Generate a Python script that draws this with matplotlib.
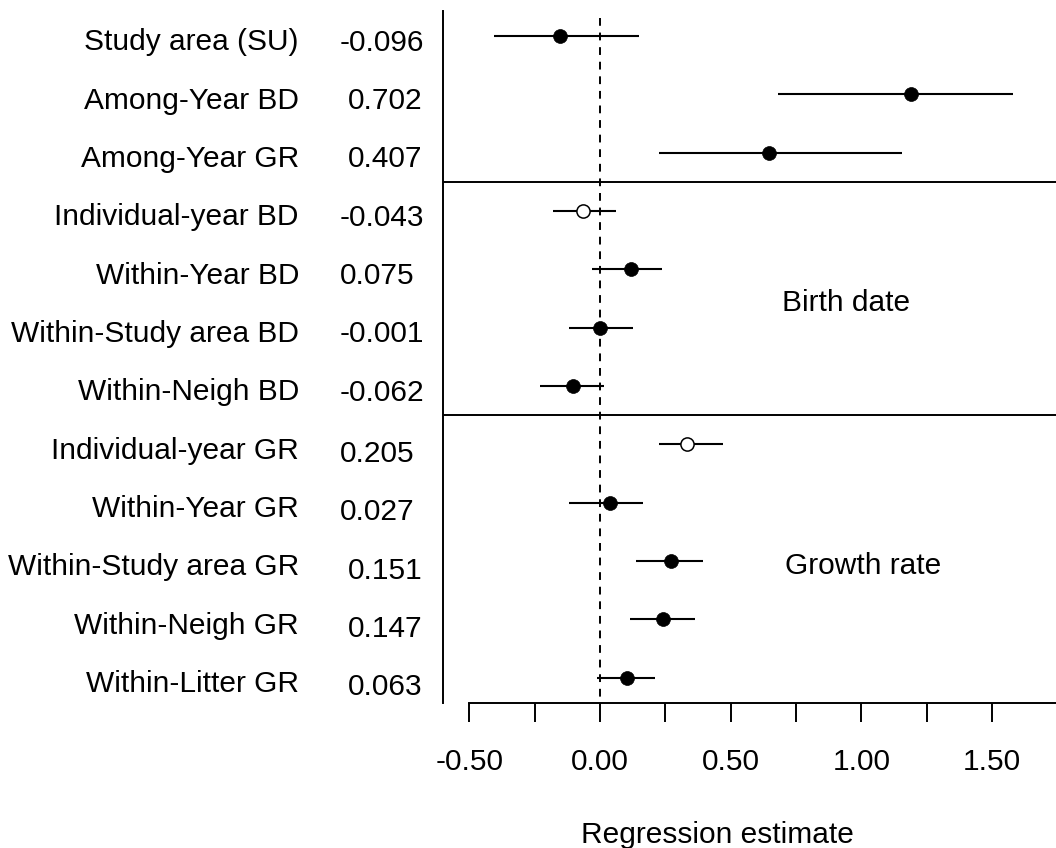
import matplotlib

matplotlib.use("Agg")
import matplotlib.pyplot as plt
import matplotlib.transforms as mtransforms
import numpy as np

plt.rcParams["font.family"] = ["Liberation Sans", "DejaVu Sans"]

LABELS = [
    "Study area (SU)",
    "Among-Year BD",
    "Among-Year GR",
    "Individual-year BD",
    "Within-Year BD",
    "Within-Study area BD",
    "Within-Neigh BD",
    "Individual-year GR",
    "Within-Year GR",
    "Within-Study area GR",
    "Within-Neigh GR",
    "Within-Litter GR",
]
VALUE_TEXT = ["-0.096", "0.702", "0.407", "-0.043", "0.075", "-0.001", "-0.062",
              "0.205", "0.027", "0.151", "0.147", "0.063"]
ESTIMATE = [-0.153, 1.190, 0.647, -0.066, 0.119, 0.000, -0.102,
            0.332, 0.038, 0.273, 0.243, 0.103]
LOWER = [-0.406, 0.681, 0.226, -0.179, -0.031, -0.119, -0.230,
         0.227, -0.119, 0.138, 0.115, -0.010]
UPPER = [0.149, 1.581, 1.156, 0.061, 0.239, 0.128, 0.016,
         0.472, 0.166, 0.393, 0.364, 0.209]
OPEN_POINT = [False, False, False, True, False, False, False,
              True, False, False, False, False]
GROUP_LABELS = ["Birth date", "Growth rate"]
XTICKS = [-0.5, 0.0, 0.5, 1.0, 1.5]
XTICK_LABELS = ["-0.50", "0.00", "0.50", "1.00", "1.50"]

# layout (pixels of a 1056 x 848 canvas)
W, H = 1056, 848
VALUE_LEFT_PX = [340, 348, 348, 340, 340, 340, 340, 340, 340, 348, 348, 348]
FS = 21.5


def fx(px):
    return px / W


def fy(py):
    return 1 - py / H


fig = plt.figure(figsize=(W / 100, H / 100), dpi=100)
ax = fig.add_axes([fx(443), fy(703), fx(1056 - 443), (703 - 11) / H])

rows = np.arange(1, len(LABELS) + 1)
ax.set_xlim((443 - 600) / 261.3, (1056 - 600) / 261.3)
ax.set_ylim(12.433, 0.5715)

ax.hlines(rows, LOWER, UPPER, color="black", linewidth=1.5, zorder=2)
for r, est, is_open in zip(rows, ESTIMATE, OPEN_POINT):
    ax.plot(est, r, marker="o", markersize=10 if not is_open else 9.5,
            markerfacecolor="white" if is_open else "black",
            markeredgecolor="black", markeredgewidth=1.1 if is_open else 0.5,
            linestyle="none", zorder=3)

# zero reference line
ax.plot([0, 0], [0.69, 12.433], color="black", linewidth=1.4,
        dashes=(4, 3.5), zorder=1)
for yline in (3.5, 7.5):
    ax.axhline(yline, color="black", linewidth=1.4, zorder=1)

trans = mtransforms.blended_transform_factory(fig.transFigure, ax.transData)
ax.text(fx(782), 5.525, GROUP_LABELS[0], transform=trans,
        fontsize=FS, ha="left", va="center_baseline")
ax.text(fx(785), 10.03, GROUP_LABELS[1], transform=trans,
        fontsize=FS, ha="left", va="center_baseline")

# row labels and values to the left of the axis
for r, lab, val, vx in zip(rows, LABELS, VALUE_TEXT, VALUE_LEFT_PX):
    ax.text(fx(299), r + 0.243, lab, transform=trans, fontsize=FS,
            ha="right", va="baseline", clip_on=False)
    voff = 0.25 if r <= 7 else 0.30
    ax.text(fx(vx), r + voff, val, transform=trans, fontsize=FS,
            ha="left", va="baseline", clip_on=False)

for side in ("top", "right"):
    ax.spines[side].set_visible(False)
ax.spines["left"].set_linewidth(1.4)
ax.spines["bottom"].set_linewidth(1.4)
ax.spines["bottom"].set_bounds(-0.5, ax.get_xlim()[1])

ax.set_yticks([])
ax.set_xticks(XTICKS)
ax.set_xticklabels(XTICK_LABELS, fontsize=FS)
ax.set_xticks([-0.25, 0.25, 0.75, 1.25], minor=True)
ax.tick_params(axis="x", which="both", direction="out", length=13.7,
               width=1.4, pad=19)

fig.text(fx(717), fy(843), "Regression estimate", fontsize=FS,
         ha="center", va="baseline")

fig.savefig("out.png", dpi=100)
